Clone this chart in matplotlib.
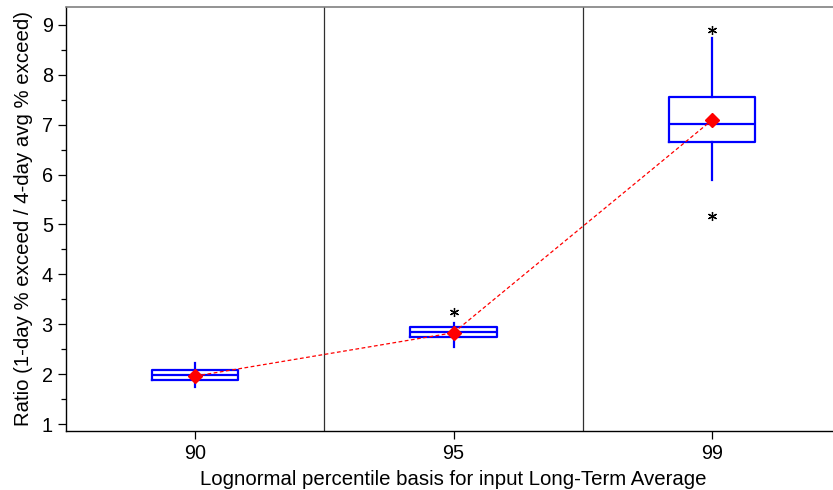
import numpy as np
import matplotlib.pyplot as plt

plt.rcParams['font.family'] = ['Liberation Sans', 'DejaVu Sans']

# percentile basis categories
categories = ['90', '95', '99']

# box statistics
q1 = [1.88, 2.74, 6.66]
med = [1.975, 2.84, 7.01]
q3 = [2.08, 2.95, 7.55]
whislo = [1.74, 2.54, 5.90]
whishi = [2.22, 3.02, 8.73]
means = [1.96, 2.83, 7.09]
outliers = [[], [3.25], [8.90, 5.17]]

stats = []
for i in range(len(categories)):
    stats.append({
        'med': med[i], 'q1': q1[i], 'q3': q3[i],
        'whislo': whislo[i], 'whishi': whishi[i],
        'fliers': outliers[i], 'label': categories[i],
    })

fig = plt.figure(figsize=(8.33, 4.9), dpi=100)
ax = fig.add_axes([66 / 833, 59.5 / 490, 775 / 833, 423 / 490])

pos = np.arange(len(categories))
blue = '#0000ff'
ax.bxp(stats, positions=pos, widths=0.335, showcaps=False,
       boxprops=dict(color=blue, linewidth=1.6),
       medianprops=dict(color=blue, linewidth=1.6),
       whiskerprops=dict(color=blue, linewidth=1.6),
       flierprops=dict(marker=(6, 2, 0), markersize=6.5, markeredgecolor='black',
                       markeredgewidth=0.9, linestyle='none'))

# mean connect line + markers
ax.plot(pos, means, color='red', linestyle=(0, (3, 2)), linewidth=0.9, zorder=4)
ax.plot(pos, means, linestyle='none', marker='D', markersize=7,
        color='red', zorder=5)

# separators between groups
for x in [0.5, 1.5]:
    ax.axvline(x, color='#303030', linewidth=0.9, zorder=1)

ax.set_xlim(-0.5, 2.5)
ax.set_ylim(0.87, 9.35)
ax.set_yticks(range(1, 10))
ax.set_yticks(np.arange(1.5, 9.5, 1.0), minor=True)
ax.set_xticks(pos)
ax.set_xticklabels(categories)

ax.tick_params(axis='both', which='major', labelsize=14.3, length=6, width=0.9, direction='out')
ax.tick_params(axis='y', which='minor', length=3.5, width=0.9)

ax.spines['right'].set_visible(False)
ax.spines['top'].set_color('#808080')
ax.spines['top'].set_linewidth(1.2)
for s in ['left', 'bottom']:
    ax.spines[s].set_color('black')
    ax.spines[s].set_linewidth(1.0)

ax.set_xlabel('Lognormal percentile basis for input Long-Term Average', fontsize=14.7, labelpad=5)
ax.set_ylabel('Ratio (1-day % exceed / 4-day avg % exceed)', fontsize=14.7, labelpad=6)

fig.savefig('out.png', dpi=100)
